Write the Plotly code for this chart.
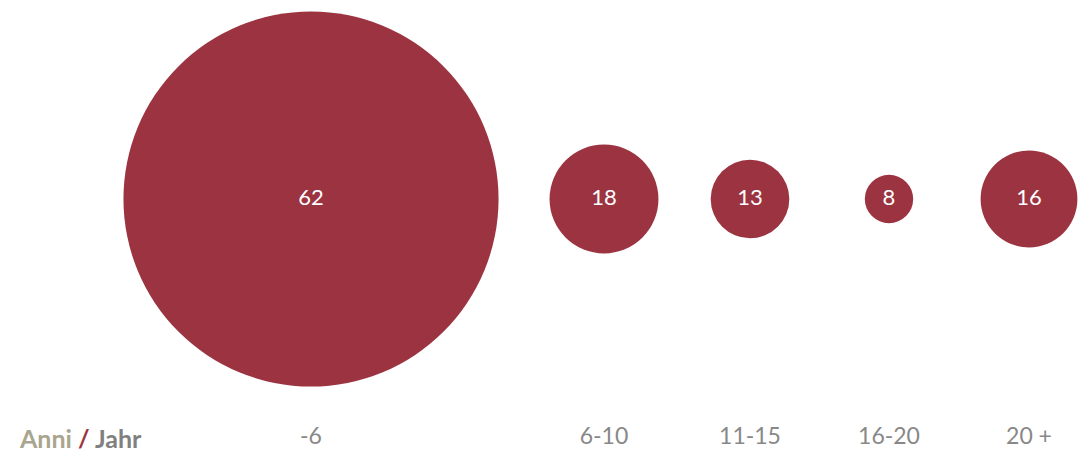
import plotly.graph_objects as go

# ---- data ----
CATEGORIES = ["-6", "6-10", "11-15", "16-20", "20 +"]
VALUES = [62, 18, 13, 8, 16]

# ---- layout constants (positions / styles) ----
X_CENTERS = [311, 604, 750, 889, 1029]   # horizontal slot of each category (px-like units)
PX_PER_UNIT = 6.05                         # bubble diameter per unit of value
W, H = 1078, 453
BOTTOM = 33
PLOT_H = H - BOTTOM
ROW_Y = 199                                 # vertical centre of the bubble row
BUBBLE = "#9c3340"
TICK_GREY = "#888888"
FONT = "Lato, 'Source Sans Pro', 'Noto Sans', sans-serif"

fig = go.Figure()
fig.add_trace(go.Scatter(
    x=X_CENTERS,
    y=[0] * len(VALUES),
    mode="markers+text",
    text=[str(v) for v in VALUES],
    textposition="middle center",
    textfont=dict(color="white", size=22, family=FONT),
    marker=dict(
        size=VALUES,
        sizemode="diameter",
        sizeref=1 / PX_PER_UNIT,
        color=BUBBLE,
        opacity=1,
        line=dict(width=0),
    ),
    cliponaxis=False,
    hoverinfo="skip",
    showlegend=False,
))

fig.add_annotation(
    xref="paper", yref="paper",
    x=80 / W, y=-(438 - PLOT_H) / PLOT_H,
    xanchor="center", yanchor="middle",
    text=("<b><span style='color:#a9a58f'>Anni</span> "
          "<span style='color:#9c3340'>/</span> "
          "<span style='color:#808080'>Jahr</span></b>"),
    showarrow=False,
    font=dict(size=25, family=FONT),
)

fig.update_layout(
    width=W, height=H,
    margin=dict(l=0, r=0, t=0, b=BOTTOM),
    paper_bgcolor="white",
    plot_bgcolor="white",
    font=dict(family=FONT),
    xaxis=dict(
        range=[0, W],
        tickvals=X_CENTERS,
        ticktext=CATEGORIES,
        tickfont=dict(size=23, color=TICK_GREY, family=FONT),
        showgrid=False, zeroline=False, showline=False,
        ticks="", fixedrange=True,
    ),
    yaxis=dict(
        range=[-(PLOT_H - ROW_Y), ROW_Y],
        visible=False, showgrid=False, zeroline=False,
        fixedrange=True,
    ),
)

fig.write_html(
    "out.html",
    config=dict(displayModeBar=False),
    post_script="document.body.style.margin='0';document.body.style.overflow='hidden';",
)
